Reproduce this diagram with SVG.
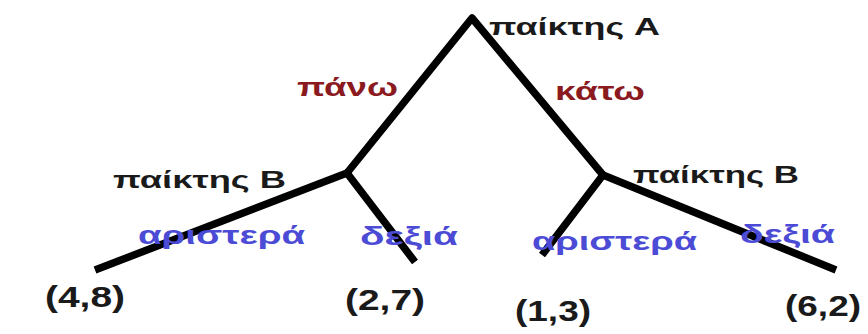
<svg xmlns="http://www.w3.org/2000/svg" width="868" height="334" viewBox="0 0 868 334">
<style>
.edge{fill:none;stroke:#000;stroke-width:7.5;stroke-linejoin:round;stroke-linecap:butt}
text{font-family:"Liberation Sans","DejaVu Sans",sans-serif;font-weight:bold}
.player{fill:#1a1a1a;font-size:24px}
.move{fill:#8b1a1f;font-size:25px}
.choice{fill:#4b4bd6;font-size:25px}
.pay{fill:#1a1a1a;font-size:29px}
</style>
<rect width="868" height="334" fill="#fff"/>
<g id="connectors">
<path class="edge" d="M347,173 L472,18 L603,175"/>
<path class="edge" d="M95,270 L347,173 L415,262"/>
<path class="edge" d="M542,255 L603,175 L836,270"/>
</g>
<g id="node-A"><text class="player" x="489" y="35" textLength="171" lengthAdjust="spacingAndGlyphs">παίκτης A</text></g>
<g id="label-pano"><text class="move" x="297" y="96" textLength="101" lengthAdjust="spacingAndGlyphs">πάνω</text></g>
<g id="label-kato"><text class="move" x="555" y="100" textLength="90" lengthAdjust="spacingAndGlyphs">κάτω</text></g>
<g id="node-B-left"><text class="player" x="113" y="188" textLength="173" lengthAdjust="spacingAndGlyphs">παίκτης B</text></g>
<g id="node-B-right"><text class="player" x="633" y="183" textLength="166" lengthAdjust="spacingAndGlyphs">παίκτης B</text></g>
<g id="label-left-aristera"><text class="choice" x="138" y="244" textLength="167" lengthAdjust="spacingAndGlyphs">αριστερά</text></g>
<g id="label-left-dexia"><text class="choice" x="360" y="245" textLength="98" lengthAdjust="spacingAndGlyphs">δεξιά</text></g>
<g id="label-right-aristera"><text class="choice" x="532" y="250" textLength="165" lengthAdjust="spacingAndGlyphs">αριστερά</text></g>
<g id="label-right-dexia"><text class="choice" x="740" y="243" textLength="95" lengthAdjust="spacingAndGlyphs">δεξιά</text></g>
<g id="leaf-48"><text class="pay" x="45" y="307" textLength="80" lengthAdjust="spacingAndGlyphs">(4,8)</text></g>
<g id="leaf-27"><text class="pay" x="345" y="310" textLength="80" lengthAdjust="spacingAndGlyphs">(2,7)</text></g>
<g id="leaf-13"><text class="pay" x="515" y="321" textLength="76" lengthAdjust="spacingAndGlyphs">(1,3)</text></g>
<g id="leaf-62"><text class="pay" x="785" y="316" textLength="76" lengthAdjust="spacingAndGlyphs">(6,2)</text></g>
</svg>
